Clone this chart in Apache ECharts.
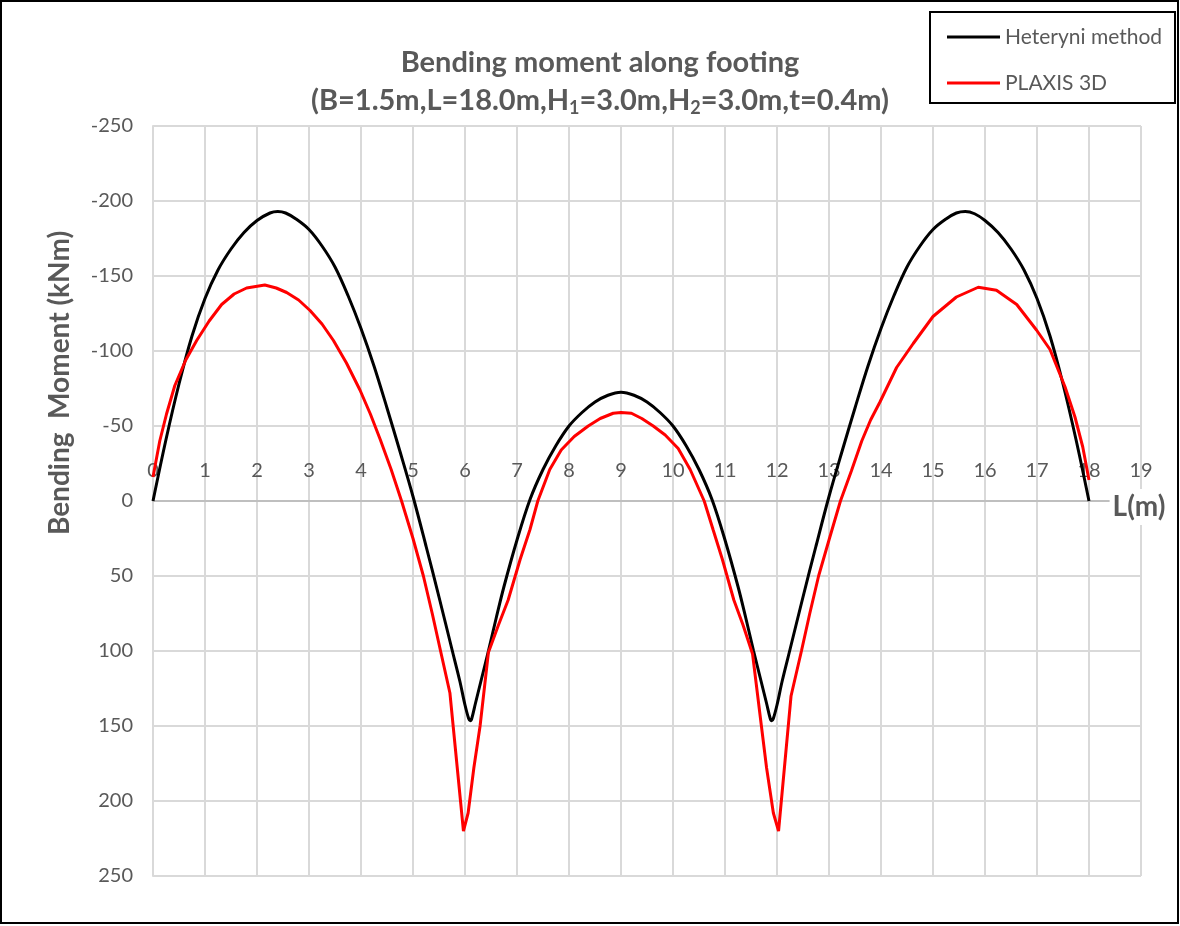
<!DOCTYPE html>
<html>
<head>
<meta charset="utf-8">
<title>Bending moment along footing</title>
<script src="https://cdn.jsdelivr.net/npm/echarts@6/dist/echarts.min.js"></script>
<style>
  html, body { margin: 0; padding: 0; background: #fff; }
  #chart { width: 1180px; height: 926px; }
</style>
</head>
<body>
<div id="chart"></div>
<script>
// Series names and axis texts
const seriesNames = ['Heteryni method', 'PLAXIS 3D'];
const yAxisTitle = 'Bending  Moment (kNm)';
const xAxisTitle = 'L(m)';

// Axis ranges (x in m, y in kNm; negative moments plotted upward)
const xTicks = { min: 0, max: 19, step: 1 };
const yTicks = { min: -250, max: 250, step: 50 };

// Hetenyi analytical solution: [L (m), M (kNm)]
const hetenyi = [
  [0, 0], [0.25, -41], [0.5, -78], [0.75, -110], [1.0, -135], [1.25, -154],
  [1.5, -168], [1.75, -179], [2.0, -187], [2.25, -192], [2.4, -193], [2.55, -192],
  [2.75, -188], [3.0, -181], [3.25, -170], [3.5, -156], [3.75, -137], [4.0, -115],
  [4.25, -90], [4.5, -62], [4.75, -33], [5.0, -3], [5.25, 30], [5.5, 64],
  [5.75, 99], [5.9, 120], [6.0, 136], [6.07, 145], [6.1, 146.5], [6.13, 145],
  [6.2, 135], [6.3, 121], [6.45, 100], [6.6, 78], [6.75, 57], [7.0, 26],
  [7.25, -1], [7.5, -21], [7.75, -37], [8.0, -50], [8.25, -59], [8.5, -66],
  [8.75, -70.5], [9.0, -72.5], [9.25, -70.5], [9.5, -66], [9.75, -59], [10.0, -50],
  [10.25, -37], [10.5, -21], [10.75, -1], [11.0, 26], [11.25, 57], [11.4, 78],
  [11.55, 100], [11.7, 121], [11.8, 135], [11.87, 145], [11.9, 146.5], [11.93, 145],
  [12.0, 136], [12.1, 120], [12.25, 99], [12.5, 64], [12.75, 30], [13.0, -3],
  [13.25, -33], [13.5, -62], [13.75, -90], [14.0, -115], [14.25, -137], [14.5, -156],
  [14.75, -170], [15.0, -181], [15.25, -188], [15.45, -192], [15.62, -193], [15.8, -191.5],
  [16.0, -187], [16.25, -179], [16.5, -168], [16.75, -154], [17.0, -135], [17.25, -110],
  [17.5, -78], [17.75, -41], [18.0, 0]
];

// PLAXIS 3D results: [L (m), M (kNm)]
const plaxis = [
  [0, -16], [0.13, -40], [0.26, -58], [0.42, -77], [0.63, -94], [0.84, -107],
  [1.08, -120], [1.32, -131], [1.56, -138], [1.8, -142], [2.15, -144], [2.37, -142],
  [2.57, -139], [2.8, -134], [3.02, -127], [3.25, -118], [3.47, -107], [3.72, -92],
  [3.98, -74], [4.18, -58], [4.37, -41], [4.58, -21], [4.78, 0], [5.0, 25],
  [5.2, 50], [5.37, 75], [5.53, 100], [5.71, 128], [5.97, 220], [6.06, 208],
  [6.17, 178], [6.29, 150], [6.45, 101], [6.64, 83], [6.83, 66], [7.06, 39],
  [7.25, 19], [7.4, 0], [7.63, -21], [7.85, -34], [8.1, -43], [8.37, -50],
  [8.6, -55], [8.85, -58.5], [9.0, -59], [9.2, -58.5], [9.4, -55], [9.62, -50],
  [9.85, -44], [10.1, -35], [10.33, -21], [10.6, 0], [10.77, 19], [10.95, 39],
  [11.17, 66], [11.35, 83], [11.53, 102], [11.7, 150], [11.8, 178], [11.93, 208],
  [12.03, 220], [12.27, 130], [12.47, 100], [12.63, 75], [12.8, 50], [13.0, 26],
  [13.22, 0], [13.43, -20], [13.63, -40], [13.8, -54], [13.98, -66], [14.3, -89],
  [14.62, -105], [15.0, -123], [15.45, -136], [15.87, -142.5], [16.22, -140.5], [16.61, -131],
  [16.99, -114], [17.25, -101], [17.54, -76], [17.73, -56], [17.88, -36], [18.0, -14]
];

const FONT = 'Lato, "Open Sans", sans-serif';
const GREY_TEXT = '#595959';
const GRID_LINE = '#d9d9d9';

// Plot area in pixels; the L axis is drawn across the M = 0 line
const PLOT = { left: 153, top: 126, width: 988, height: 750 };
const zeroLineOffset = -PLOT.height * (0 - yTicks.min) / (yTicks.max - yTicks.min);

const chart = echarts.init(document.getElementById('chart'), null, { renderer: 'canvas' });

chart.setOption({
  backgroundColor: '#ffffff',
  animation: false,
  textStyle: { fontFamily: FONT },
  title: {
    text: 'Bending moment along footing\n(B=1.5m,L=18.0m,H{sub|1}=3.0m,H{sub|2}=3.0m,t=0.4m)',
    left: 595,
    top: 39,
    textAlign: 'center',
    textStyle: {
      fontFamily: FONT,
      fontSize: 29,
      fontWeight: 'bold',
      color: GREY_TEXT,
      lineHeight: 38,
      rich: {
        sub: {
          fontFamily: FONT,
          fontSize: 18,
          fontWeight: 'bold',
          color: GREY_TEXT,
          lineHeight: 18,
          padding: [15, 0, 0, 0]
        }
      }
    }
  },
  legend: {
    data: seriesNames,
    orient: 'vertical',
    left: 942,
    top: 21,
    itemWidth: 53,
    itemHeight: 3,
    itemGap: 24,
    icon: 'rect',
    textStyle: { fontFamily: FONT, fontSize: 21, color: GREY_TEXT, lineHeight: 22 }
  },
  grid: { left: PLOT.left, top: PLOT.top, width: PLOT.width, height: PLOT.height, containLabel: false },
  xAxis: {
    type: 'value',
    position: 'top',
    offset: zeroLineOffset,
    min: xTicks.min,
    max: xTicks.max,
    interval: xTicks.step,
    axisLine: { show: true, onZero: false, lineStyle: { color: '#bfbfbf', width: 2 } },
    axisTick: { show: false },
    axisLabel: { fontFamily: FONT, fontSize: 20, color: GREY_TEXT, margin: 20 },
    splitLine: { show: true, lineStyle: { color: GRID_LINE, width: 2 } }
  },
  yAxis: {
    type: 'value',
    inverse: true,
    min: yTicks.min,
    max: yTicks.max,
    interval: yTicks.step,
    axisLine: { show: true, onZero: false, lineStyle: { color: GRID_LINE, width: 2 } },
    axisTick: { show: false },
    axisLabel: { fontFamily: FONT, fontSize: 20, color: GREY_TEXT, margin: 20 },
    splitLine: { show: true, lineStyle: { color: GRID_LINE, width: 2 } }
  },
  series: [
    {
      name: seriesNames[0],
      type: 'line',
      data: hetenyi,
      showSymbol: false,
      smooth: 0.35,
      color: '#000000',
      lineStyle: { color: '#000000', width: 3 }
    },
    {
      name: seriesNames[1],
      type: 'line',
      data: plaxis,
      showSymbol: false,
      smooth: false,
      color: '#ff0000',
      lineStyle: { color: '#ff0000', width: 3 }
    }
  ],
  graphic: [
    {
      type: 'rect',
      silent: true,
      shape: { x: 1, y: 1, width: 1177, height: 922 },
      style: { fill: 'none', stroke: '#000000', lineWidth: 2 }
    },
    {
      type: 'rect',
      silent: true,
      shape: { x: 930, y: 12, width: 245, height: 91 },
      style: { fill: 'none', stroke: '#000000', lineWidth: 2 }
    },
    {
      type: 'text',
      silent: true,
      x: 60,
      y: 383,
      rotation: Math.PI / 2,
      style: {
        text: yAxisTitle,
        fontFamily: FONT,
        fontSize: 28,
        fontWeight: 'bold',
        fill: GREY_TEXT,
        align: 'center',
        verticalAlign: 'middle'
      }
    },
    {
      type: 'text',
      silent: true,
      x: 1139,
      y: 507,
      z: 100,
      style: {
        text: xAxisTitle,
        fontFamily: FONT,
        fontSize: 28,
        fontWeight: 'bold',
        fill: GREY_TEXT,
        align: 'center',
        verticalAlign: 'middle',
        backgroundColor: '#ffffff',
        padding: [4, 3, 4, 3]
      }
    }
  ]
});
</script>
</body>
</html>
